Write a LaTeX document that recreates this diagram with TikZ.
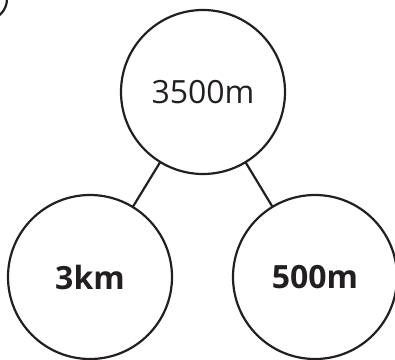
\documentclass[tikz,border=0pt]{standalone}
\usepackage{fontspec}
\setmainfont{Open Sans}
\usepackage{tikz}
\definecolor{ink}{RGB}{35, 31, 32}

\begin{document}
\begin{tikzpicture}[
  x=1pt, y=1pt,
  part/.style={circle, draw=ink, line width=2.2pt, minimum size=164pt,
               inner sep=0pt, outer sep=0pt, text=ink, font=\fontsize{32}{36}\selectfont},
  given/.style={part, font=\fontsize{32}{36}\selectfont\bfseries},
  link/.style={draw=ink, line width=2.2pt}
]
  \useasboundingbox (0,0) rectangle (395,359);
  \node[part]  (whole) at (203,267) {3500m};
  \node[given] (km)    at (90,82)   {3km};
  \node[given] (m)     at (315,82)  {500m};

  \draw[link] (whole) -- (km);
  \draw[link] (whole) -- (m);

  % number badge, cut off at the corner
  \draw[link] (-14,360) circle (21);
\end{tikzpicture}
\end{document}
